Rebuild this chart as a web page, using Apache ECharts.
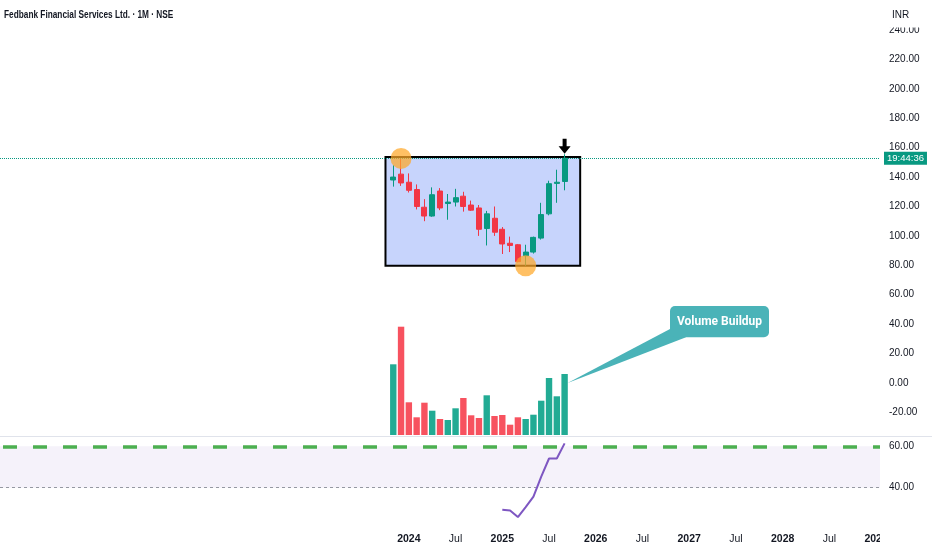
<!DOCTYPE html>
<html>
<head>
<meta charset="utf-8">
<script src="https://cdn.jsdelivr.net/npm/echarts@6/dist/echarts.min.js"></script>
<style>
html,body{margin:0;padding:0;background:#fff;}
#chart{width:932px;height:550px;}
</style>
</head>
<body>
<div id="chart"></div>
<script>
// ---- data ----
const axisStartMonth = '2019-09';
const axisMonthCount = 113; // Sep 2019 .. Jan 2029
const firstLabelMonth = '2024-01';
const candleDates = ['2023-11','2023-12','2024-01','2024-02','2024-03','2024-04','2024-05','2024-06','2024-07','2024-08','2024-09','2024-10','2024-11','2024-12','2025-01','2025-02','2025-03','2025-04','2025-05','2025-06','2025-07','2025-08','2025-09'];
const opens  = [138, 142, 136.5, 131.5, 119.5, 113.5, 130.5, 122, 123, 127, 121, 119, 105, 112, 104.5, 95, 94, 86.5, 89, 98.5, 115, 135.7, 137];
const closes = [140, 136, 131, 120, 113.5, 128, 119, 123, 126, 120, 117.5, 104.5, 115, 102.5, 94.5, 93.5, 82.5, 89, 99, 114.5, 135.5, 136.5, 152.8];
const lows   = [133.5, 134, 129.5, 118, 110, 113, 117.5, 111, 120, 116.5, 117, 100, 93.5, 100, 87.7, 89, 82, 79.7, 88, 97.5, 114, 122.5, 131];
const highs  = [148, 152.7, 142.5, 135, 125, 133, 132.5, 128.5, 132, 130, 124, 121, 117, 120, 106, 99.5, 94.5, 94, 99.5, 122.5, 137.5, 145, 155.5];
const volumes = [7.07, 10.83, 3.27, 1.77, 3.23, 2.43, 1.6, 1.5, 2.67, 3.7, 1.97, 1.7, 3.97, 1.9, 2.0, 1.03, 1.77, 1.6, 2.03, 3.43, 5.7, 3.87, 6.1];
const rsiDates = ['2025-01','2025-02','2025-03','2025-04','2025-05','2025-06','2025-07','2025-08','2025-09'];
const rsiValues = [29.3, 29.0, 25.8, 30.6, 35.7, 45.3, 54.1, 54.1, 61.4];
const rangeBox = { from: '2023-10', to: '2025-11', top: 153.6, bottom: 79.7 };
const circleMarks = [{ date: '2023-12', value: 152.7 }, { date: '2025-04', value: 79.7 }];
const arrowMark = { date: '2025-09', value: 155.5 };
const priceTicks = { min: -40, max: 240, interval: 20 };
const rsiLevels = [60, 40];
const titleText = 'Fedbank Financial Services Ltd. · 1M · NSE';
const currencyText = 'INR';
const countdownText = '19:44:36';
const calloutText = 'Volume Buildup';

// ---- build axis months ----
function buildMonths(start, count) {
  let [y, m] = start.split('-').map(Number);
  const out = [];
  for (let i = 0; i < count; i++) {
    out.push(y + '-' + String(m).padStart(2, '0'));
    m++; if (m > 12) { m = 1; y++; }
  }
  return out;
}
const months = buildMonths(axisStartMonth, axisMonthCount);
const candleData = months.map(d => {
  const i = candleDates.indexOf(d);
  return i < 0 ? '-' : [opens[i], closes[i], lows[i], highs[i]];
});
const volData = months.map(d => {
  const i = candleDates.indexOf(d);
  return i < 0 ? '-' : volumes[i];
});
const volUp = months.map(d => {
  const i = candleDates.indexOf(d);
  return i < 0 ? true : closes[i] >= opens[i];
});
const rsiData = months.map(d => {
  const i = rsiDates.indexOf(d);
  return i < 0 ? '-' : rsiValues[i];
});

const FONT = "'Liberation Sans', Arial, sans-serif";
const UP = '#089981', DOWN = '#f23645';

function xAxisCfg(idx, showLabels) {
  return {
    type: 'category', gridIndex: idx, data: months, boundaryGap: true,
    axisLine: { show: false }, axisTick: { show: false }, splitLine: { show: false },
    axisLabel: showLabels ? {
      show: true, margin: 11, fontFamily: FONT,
      interval: (i, v) => v >= firstLabelMonth && (v.endsWith('-01') || v.endsWith('-07')),
      formatter: v => v.endsWith('-01') ? '{y|' + v.slice(0, 4) + '}' : '{m|Jul}',
      rich: {
        y: { fontWeight: 'bold', fontSize: 10.5, color: '#131722', fontFamily: FONT },
        m: { fontSize: 10.5, color: '#131722', fontFamily: FONT }
      }
    } : { show: false }
  };
}

const chart = echarts.init(document.getElementById('chart'));
const option = {
  animation: false,
  backgroundColor: '#ffffff',
  grid: [
    { left: 0, right: 52, top: 30, height: 411.8 },
    { left: 0, right: 52, top: 325, height: 110 },
    { left: 0, right: 52, top: 437, height: 86 }
  ],
  xAxis: [xAxisCfg(0, false), xAxisCfg(1, false), xAxisCfg(2, true)],
  yAxis: [
    {
      type: 'value', gridIndex: 0, position: 'right',
      min: priceTicks.min, max: priceTicks.max, interval: priceTicks.interval,
      axisLine: { show: false }, axisTick: { show: false }, splitLine: { show: false },
      axisLabel: { showMinLabel: false, margin: 9, fontSize: 10, color: '#131722', fontFamily: FONT, formatter: v => v.toFixed(2) }
    },
    {
      type: 'value', gridIndex: 1, position: 'right', min: 0, max: 11,
      axisLine: { show: false }, axisTick: { show: false }, splitLine: { show: false }, axisLabel: { show: false }
    },
    {
      type: 'value', gridIndex: 2, position: 'right', min: 22.95, max: 64.49,
      axisLine: { show: false }, axisTick: { show: false }, splitLine: { show: false },
      axisLabel: { customValues: rsiLevels, margin: 9, fontSize: 10, color: '#131722', fontFamily: FONT, formatter: v => v.toFixed(2) }
    }
  ],
  series: [
    {
      name: 'box', type: 'line', xAxisIndex: 0, yAxisIndex: 0, data: [], z: 1,
      markArea: {
        silent: true,
        itemStyle: { color: '#c7d4fc', borderColor: '#000000', borderWidth: 2 },
        data: [[{ coord: [rangeBox.from, rangeBox.top] }, { coord: [rangeBox.to, rangeBox.bottom] }]]
      }
    },
    {
      name: 'price', type: 'candlestick', xAxisIndex: 0, yAxisIndex: 0, z: 3,
      data: candleData, barWidth: 5.5,
      itemStyle: { color: UP, color0: DOWN, borderColor: UP, borderColor0: DOWN, borderWidth: 1 },
      markLine: {
        silent: true, symbol: 'none',
        lineStyle: { type: 'dotted', color: UP, width: 1 },
        label: {
          position: 'end', distance: 4, formatter: countdownText,
          backgroundColor: UP, color: '#ffffff', padding: [2, 3, 1, 3],
          fontSize: 9.5, fontFamily: FONT
        },
        data: [{ yAxis: closes[closes.length - 1] }]
      },
      markPoint: {
        silent: true, label: { show: false },
        data: [
          ...circleMarks.map(c => ({
            coord: [c.date, c.value], symbol: 'circle', symbolSize: 21,
            itemStyle: { color: 'rgba(255,168,40,0.72)' }
          })),
          {
            coord: [arrowMark.date, arrowMark.value],
            symbol: 'path://M4,0 L8,0 L8,7 L12,7 L6,14 L0,7 L4,7 Z',
            symbolSize: [12, 15], symbolOffset: [0, -8], symbolKeepAspect: false,
            itemStyle: { color: '#000000' }
          }
        ]
      }
    },
    {
      name: 'volume', type: 'bar', xAxisIndex: 1, yAxisIndex: 1, data: volData, barWidth: 6.4, z: 2,
      itemStyle: { color: p => volUp[p.dataIndex] ? '#22ab94' : '#f7525f' }
    },
    {
      name: 'rsi', type: 'line', xAxisIndex: 2, yAxisIndex: 2, data: rsiData,
      symbol: 'none', lineStyle: { color: '#7e57c2', width: 2 }, z: 5,
      markArea: {
        silent: true, itemStyle: { color: 'rgba(126,87,194,0.08)' },
        data: [[{ yAxis: rsiLevels[0] }, { yAxis: rsiLevels[1] }]]
      },
      markLine: {
        silent: true, symbol: 'none', label: { show: false },
        data: [
          { yAxis: rsiLevels[0], lineStyle: { color: '#4caf50', width: 3.5, type: [14, 16], dashOffset: -3 } },
          { yAxis: rsiLevels[1], lineStyle: { color: '#9598a1', width: 1, type: [3, 3] } }
        ]
      }
    }
  ]
};
chart.setOption(option);

// callout tip computed from volume scale (last bar)
const lastIdx = candleDates.length - 1;
const tip = chart.convertToPixel({ xAxisIndex: 1, yAxisIndex: 1 }, [candleDates[lastIdx], volumes[lastIdx]]);
const tx = tip[0] + 3, ty = tip[1] + 9;

chart.setOption({
  graphic: [
    { type: 'rect', z: 100, shape: { x: 880, y: 0, width: 52, height: 27.5 }, style: { fill: '#ffffff' } },
    { type: 'text', z: 101, x: 892, y: 15, style: { text: currencyText, fontSize: 10, fontFamily: FONT, fill: '#131722', verticalAlign: 'middle' } },
    { type: 'text', z: 101, x: 4, y: 15, scaleX: 0.72, style: { text: titleText, fontSize: 11.5, fontWeight: 'bold', fontFamily: FONT, fill: '#131722', verticalAlign: 'middle' } },
    { type: 'line', z: 100, shape: { x1: 0, y1: 436.5, x2: 932, y2: 436.5 }, style: { stroke: '#e0e3eb', lineWidth: 1 } },
    { type: 'rect', z: 100, shape: { x: 880, y: 527, width: 52, height: 23 }, style: { fill: '#ffffff' } },
    { type: 'polygon', z: 102, shape: { points: [[670, 329], [686, 337.3], [tx, ty]] }, style: { fill: '#4ab3b8' } },
    { type: 'rect', z: 102, shape: { x: 670, y: 306, width: 99, height: 31.3, r: 5 }, style: { fill: '#4ab3b8' } },
    { type: 'text', z: 103, x: 719.5, y: 322, style: { text: calloutText, fontSize: 12, fontWeight: 'bold', fontFamily: "Roboto, 'Noto Sans', sans-serif", fill: '#ffffff', align: 'center', verticalAlign: 'middle' } }
  ]
});
</script>
</body>
</html>
